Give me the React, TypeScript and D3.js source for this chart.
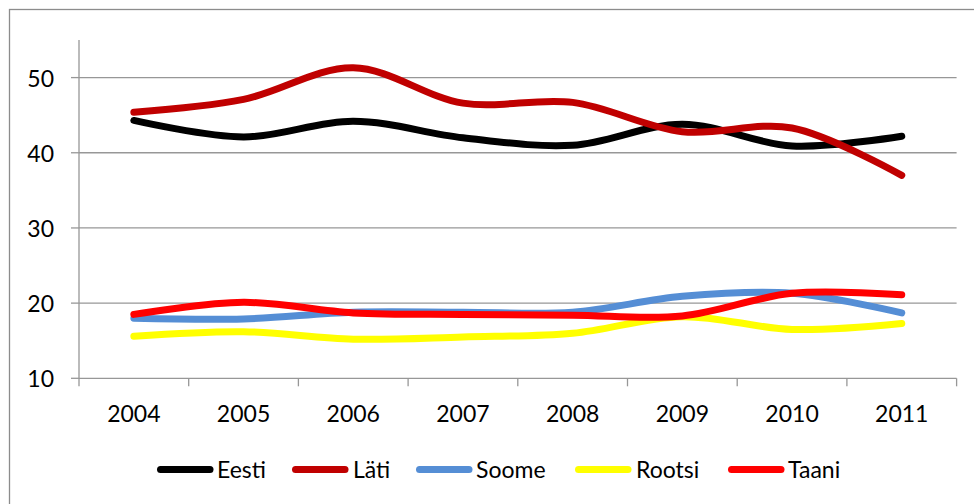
import React from "react";
import * as d3 from "d3";

const years = ["2004", "2005", "2006", "2007", "2008", "2009", "2010", "2011"];
const eesti = [44.3, 42.1, 44.2, 42.0, 41.0, 43.8, 40.9, 42.2];
const lati = [45.4, 47.1, 51.3, 46.6, 46.7, 42.8, 43.3, 37.0];
const soome = [18.0, 17.9, 18.8, 18.8, 18.8, 20.9, 21.3, 18.7];
const rootsi = [15.6, 16.2, 15.2, 15.5, 16.0, 18.2, 16.5, 17.3];
const taani = [18.5, 20.1, 18.7, 18.5, 18.4, 18.3, 21.3, 21.1];
const yTicks = [10, 20, 30, 40, 50];

const seriesNames = ["Eesti", "Läti", "Soome", "Rootsi", "Taani"];
const seriesValues = [eesti, lati, soome, rootsi, taani];
const seriesColors = ["#000000", "#C00000", "#558ED5", "#FFFF00", "#FF0000"];

const W = 974;
const H = 504;
const left = 79;
const right = 956.6;
const top = 40;
const bottom = 378.3;
const font = "Lato, 'Open Sans', sans-serif";

export default function App() {
  const x = d3.scaleBand<string>().domain(years).range([left, right]).padding(0);
  const y = d3.scaleLinear().domain([10, 55]).range([bottom, top]);
  const cx = (d: string) => (x(d) as number) + x.bandwidth() / 2;
  const line = d3
    .line<number>()
    .x((_, i) => cx(years[i]))
    .y((v) => y(v))
    .curve(d3.curveCatmullRom.alpha(0.5));

  const legendItems = [
    { lx: 157, tx: 217 },
    { lx: 292, tx: 353 },
    { lx: 416, tx: 476 },
    { lx: 575, tx: 636 },
    { lx: 728, tx: 788 },
  ];
  const legendY = 469.5;
  const gridColor = "#979797";

  return (
    <svg
      width={W}
      height={H}
      style={{ position: "absolute", left: 0, top: 0, background: "#fff" }}
      fontFamily={font}
    >
      <rect x={0} y={0} width={W} height={H} fill="#fff" />
      <rect x={9.5} y={9.5} width={1100} height={1100} fill="none" stroke="#8c8c8c" strokeWidth={1.3} />
      {yTicks.map((t) => (
        <g key={t}>
          {t > 10 && (
            <line x1={left} x2={right} y1={y(t)} y2={y(t)} stroke={gridColor} strokeWidth={1.3} />
          )}
          <line x1={71} x2={left} y1={y(t)} y2={y(t)} stroke={gridColor} strokeWidth={1.3} />
          <text x={54} y={y(t)} textAnchor="end" dominantBaseline="central" fontSize={23} fill="#000">
            {t}
          </text>
        </g>
      ))}
      <line x1={left} x2={left} y1={top} y2={bottom} stroke={gridColor} strokeWidth={1.3} />
      <line x1={left} x2={right} y1={bottom} y2={bottom} stroke={gridColor} strokeWidth={1.3} />
      {years.map((yr) => (
        <line
          key={"t" + yr}
          x1={x(yr) as number}
          x2={x(yr) as number}
          y1={bottom}
          y2={bottom + 8}
          stroke={gridColor}
          strokeWidth={1.3}
        />
      ))}
      <line x1={right} x2={right} y1={bottom} y2={bottom + 8} stroke={gridColor} strokeWidth={1.3} />
      {years.map((yr) => (
        <text key={yr} x={cx(yr)} y={421.5} textAnchor="middle" fontSize={23} fill="#000">
          {yr}
        </text>
      ))}
      {seriesValues.map((vals, i) => (
        <path
          key={seriesNames[i]}
          d={line(vals) || ""}
          fill="none"
          stroke={seriesColors[i]}
          strokeWidth={7}
          strokeLinecap="round"
          strokeLinejoin="round"
        />
      ))}
      {seriesNames.map((n, i) => (
        <g key={"lg" + n}>
          <line
            x1={legendItems[i].lx + 3.5}
            x2={legendItems[i].lx + 53}
            y1={legendY}
            y2={legendY}
            stroke={seriesColors[i]}
            strokeWidth={7}
            strokeLinecap="round"
          />
          <text x={legendItems[i].tx} y={478} fontSize={23} fill="#000">
            {n}
          </text>
        </g>
      ))}
    </svg>
  );
}
